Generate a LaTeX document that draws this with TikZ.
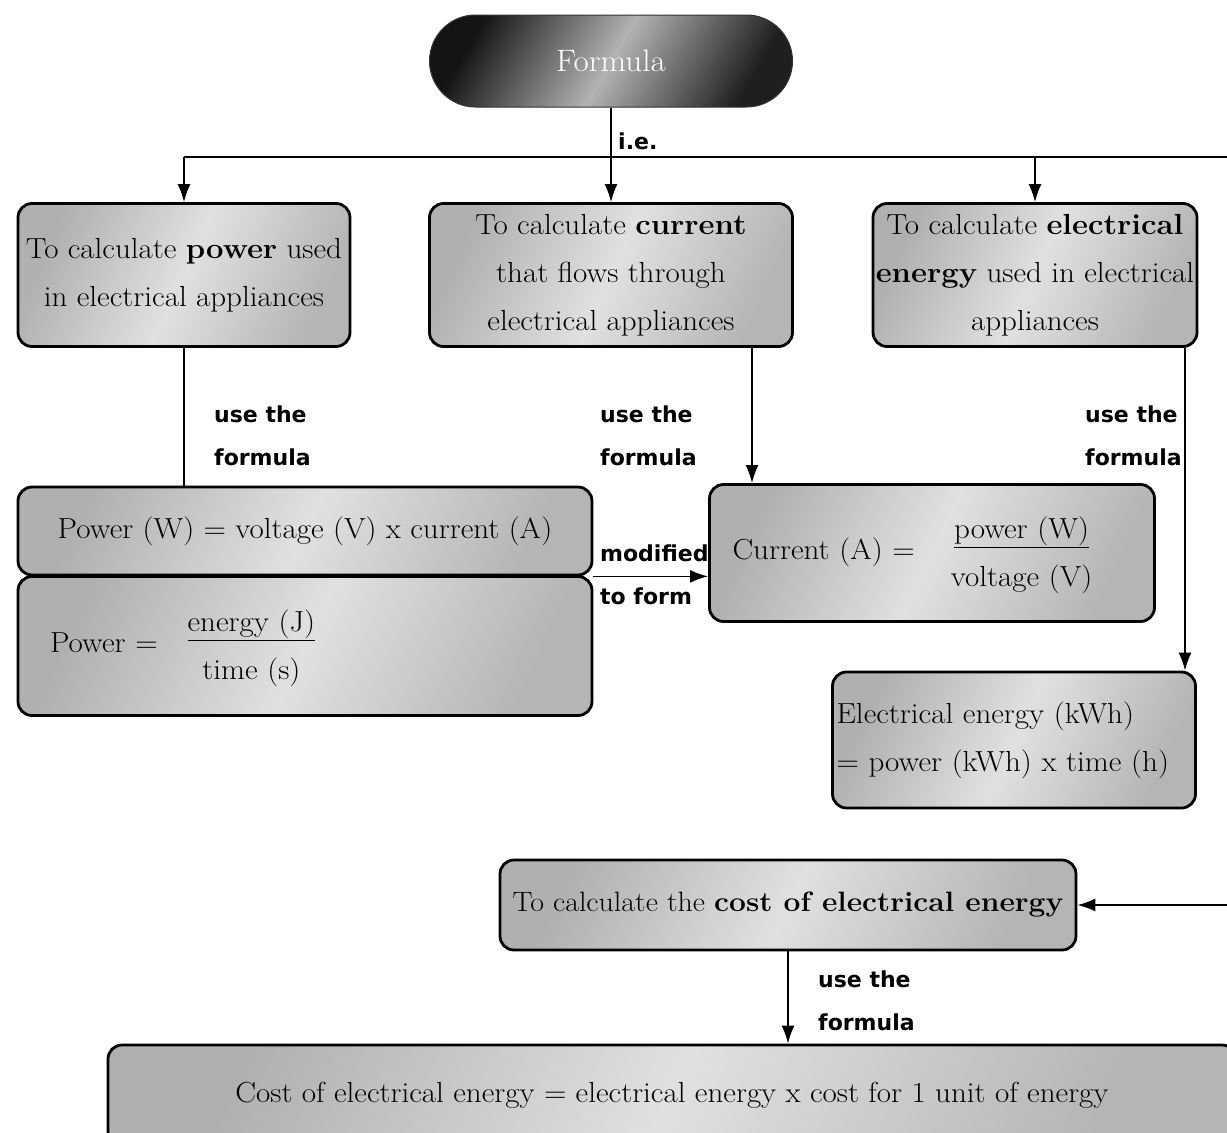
\documentclass[tikz,border=0pt]{standalone}
\usepackage{fontspec}
\setmainfont{Latin Modern Roman}[FakeStretch=1.07]
\newfontfamily\notefont{DejaVu Sans}
\usetikzlibrary{arrows.meta,calc}

\tikzset{
  panel/.style={draw=black, line width=2.8pt, rounded corners=14pt,
    left color=gray!62, right color=gray!58, middle color=gray!24,
    shading angle=65,
    align=center, inner sep=4pt, font=\fontsize{29}{48}\selectfont},
  pill/.style={draw=black!80, line width=1pt, rounded corners=46pt,
    left color=black!92, right color=black!88, middle color=gray!60, shading angle=60,
    text=white, font=\fontsize{31}{36}\selectfont,
    minimum width=363pt, minimum height=92pt},
  note/.style={font=\notefont\bfseries\fontsize{22}{43}\selectfont,
    align=left, inner sep=0pt, anchor=west},
  link/.style={line width=1.8pt, draw=black},
  arr/.style={link, -{Latex[length=18pt,width=13pt]}},
}

\begin{document}
\begin{tikzpicture}[x=1pt,y=-1pt]
  \clip (0,0) rectangle (1227,1133);
  \fill[white] (0,0) rectangle (1227,1133);

  % top node
  \node[pill] (formula) at (611,61) {Formula};

  % the three purposes
  \node[panel, minimum width=332pt, minimum height=143pt, inner xsep=0pt] (pw) at (184,275)
    {To calculate \textbf{power} used\\in electrical appliances};
  \node[panel, minimum width=363pt, minimum height=143pt] (cur) at (611,275)
    {To calculate \textbf{current}\\that flows through\\electrical appliances};
  \node[panel, minimum width=324pt, minimum height=143pt, inner xsep=0pt] (en) at (1035,275)
    {To calculate \textbf{electrical}\\\textbf{energy} used in electrical\\appliances};

  % formulas
  \node[panel, minimum width=574pt, minimum height=88pt] (p1) at (305,531)
    {Power (W) = voltage (V) x current (A)};
  \node[panel, minimum height=139pt, text width=510pt, inner xsep=32pt, align=left] (p2) at (305,646)
    {Power =\hspace{30pt}\begin{tabular}{@{}c@{}}\underline{energy (J)}\\time (s)\end{tabular}};
  \node[panel, minimum height=137pt, text width=399pt, inner xsep=23pt, align=left] (c) at (932,553)
    {Current (A) =\hspace{36pt}\begin{tabular}{@{}c@{}}\underline{power (W)}\\voltage (V)\end{tabular}};
  \node[panel, minimum height=136pt, text width=355pt, inner xsep=4pt, align=left] (e) at (1014,740)
    {Electrical energy (kWh)\\= power (kWh) x time (h)};

  % cost
  \node[panel, minimum width=576pt, minimum height=90pt, inner xsep=0pt,
        font=\fontsize{28}{48}\selectfont] (cost) at (788,905)
    {To calculate the \textbf{cost of electrical energy}};
  \node[panel, minimum width=1128pt, minimum height=100pt] (bot) at (672,1095)
    {Cost of electrical energy = electrical energy x cost for 1 unit of energy};

  % connectors
  \coordinate (bus) at (0,157);
  \coordinate (busend) at (1227,157);
  \coordinate (costin) at (1227,905);
  \coordinate (cx) at (752,0);
  \coordinate (ex) at (1185,0);

  \draw[link] (pw.north |- bus) -- (busend);
  \draw[arr] (formula.south) -- (cur.north);
  \draw[arr] (pw.north |- bus) -- (pw.north);
  \draw[arr] (en.north |- bus) -- (en.north);
  \draw[link] (pw.south) -- (p1.north -| pw.south);
  \draw[arr] (cur.south -| cx) -- (c.north -| cx);
  \draw[arr] (en.south -| ex) -- (e.north -| ex);
  \draw[arr] (p1.south east) -- (c.west |- p1.south east);
  \draw[arr] (costin) -- (cost.east);
  \draw[arr] (cost.south) -- (bot.north -| cost.south);

  % connector labels
  \node[note] (ie) at (618,141) {i.e.};
  \node[note] (n1) at (214,436) {use the\\formula};
  \node[note] (n2) at (600,436) {use the\\formula};
  \node[note] (n3) at (1085,436) {use the\\formula};
  \node[note] (n4) at (600,575) {modified\\to form};
  \node[note] (n5) at (818,1001) {use the\\formula};
\end{tikzpicture}
\end{document}
